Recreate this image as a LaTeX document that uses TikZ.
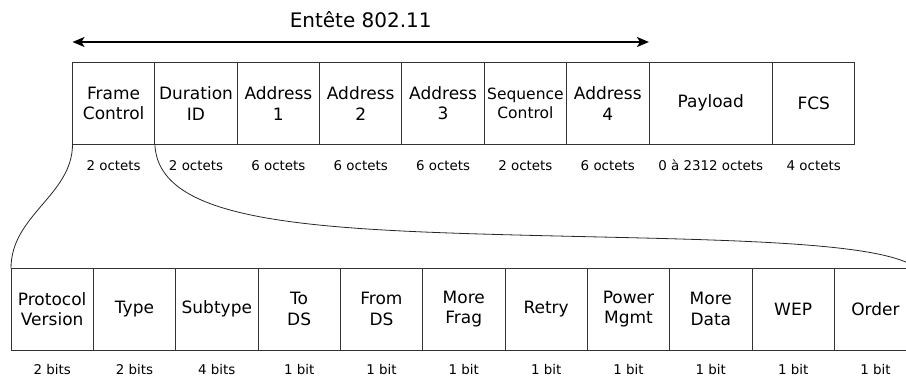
\documentclass[tikz,border=0pt]{standalone}
\usepackage{fontspec}
\setmainfont{DejaVu Sans}
\usetikzlibrary{arrows.meta,calc}
\newcommand\fsbox{\fontsize{17}{20.5}\selectfont}
\newcommand\fsseq{\fontsize{15.5}{19}\selectfont}
\newcommand\fslab{\fontsize{13.4}{16}\selectfont}
\newcommand\fstitle{\fontsize{20}{24}\selectfont}
\begin{document}
\begin{tikzpicture}[x=1pt,y=-1pt,
  fld/.style={draw=black!80, line width=0.9pt, minimum width=82.35pt, minimum height=82pt,
    inner sep=0pt, outer sep=0pt, align=center, font=\fsbox, anchor=north west},
  bfld/.style={fld, minimum width=82.33pt, minimum height=81.7pt},
  lab/.style={font=\fslab, inner sep=0pt},
  conn/.style={draw=black!85, line width=0.8pt},
  harrow/.style={line width=1.6pt, {Stealth[length=12pt,width=10pt,inset=3pt]}-{Stealth[length=12pt,width=10pt,inset=3pt]}}]
\useasboundingbox (0,0) rectangle (906,379);

% top row
\node[fld] (fc) at (72.5,62.3) {Frame\\Control};
\node[fld] (dur) at (fc.north east) {Duration\\ID};
\node[fld] (a1) at (dur.north east) {Address\\1};
\node[fld] (a2) at (a1.north east) {Address\\2};
\node[fld] (a3) at (a2.north east) {Address\\3};
\node[fld, font=\fsseq] (sc) at (a3.north east) {Sequence\\Control};
\node[fld] (a4) at (sc.north east) {Address\\4};
\node[fld, minimum width=123.6pt] (pay) at (a4.north east) {Payload};
\node[fld] (fcs) at (pay.north east) {FCS};

\foreach \n/\t in {fc/2 octets, dur/2 octets, a1/6 octets, a2/6 octets, a3/6 octets,
  sc/2 octets, a4/6 octets, pay/0 à 2312 octets, fcs/4 octets}
  \node[lab] (\n-l) at ($(\n.south)+(0,21)$) {\t};

% header arrow
\path (fc.north west) ++(0,-20.3) coordinate (al);
\path (a4.north east) ++(0,-20.3) coordinate (ar);
\draw[harrow] (al) -- (ar);
\node[font=\fstitle, inner sep=0pt] (title) at ($(al)!0.5!(ar)+(0,-22)$) {Entête 802.11};

% bottom row
\node[bfld] (pv) at (11,268.3) {Protocol\\Version};
\node[bfld] (ty) at (pv.north east) {Type};
\node[bfld] (st) at (ty.north east) {Subtype};
\node[bfld] (tds) at (st.north east) {To\\DS};
\node[bfld] (fds) at (tds.north east) {From\\DS};
\node[bfld] (mf) at (fds.north east) {More\\Frag};
\node[bfld] (re) at (mf.north east) {Retry};
\node[bfld] (pm) at (re.north east) {Power\\Mgmt};
\node[bfld] (md) at (pm.north east) {More\\Data};
\node[bfld] (wep) at (md.north east) {WEP};
\node[bfld] (ord) at (wep.north east) {Order};

\foreach \n/\t in {pv/2 bits, ty/2 bits, st/4 bits, tds/1 bit, fds/1 bit, mf/1 bit,
  re/1 bit, pm/1 bit, md/1 bit, wep/1 bit, ord/1 bit}
  \node[lab] (\n-l) at ($(\n.south)+(0,20)$) {\t};

% expansion curves
\draw[conn] (fc.south west) .. controls (72.5,195) and (11,215) .. (pv.north west);
\draw[conn] (dur.south west) .. controls (158,215) and (280,228) .. (480,234)
  .. controls (680,240) and (880,238) .. (ord.north east);
\end{tikzpicture}
\end{document}
